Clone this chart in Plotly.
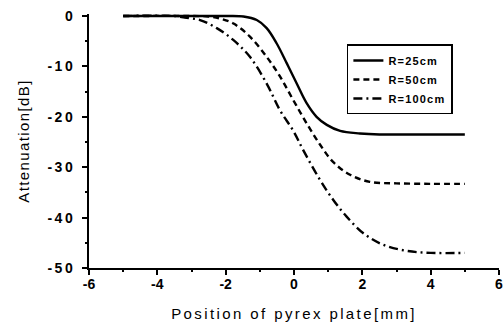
import plotly.graph_objects as go

# ---- data ----
x_r25 = [-5, -3, -2, -1.48, -1.09, -0.8, -0.51, -0.21, 0.08, 0.37, 0.66, 0.96, 1.35, 1.93, 2.5, 3.5, 5]
y_r25 = [0, 0, 0, -0.1, -0.8, -2.4, -5.4, -9.4, -13.4, -17.3, -20.0, -21.6, -22.8, -23.3, -23.5, -23.5, -23.5]

x_r50 = [-5, -3, -2.5, -2.16, -1.77, -1.29, -0.8, -0.41, -0.02, 0.37, 0.76, 1.15, 1.64, 2.22, 3.0, 4, 5]
y_r50 = [0, 0, -0.1, -0.5, -1.5, -4.1, -8.1, -12.0, -16.7, -21.3, -25.5, -29.0, -31.5, -32.9, -33.2, -33.3, -33.3]

x_r100 = [-5, -3.5, -3.2, -2.75, -2.26, -1.77, -1.29, -0.8, -0.41, -0.02, 0.27, 0.76, 1.15, 1.54, 2.03, 2.61, 3.3, 4, 5]
y_r100 = [0, 0, -0.3, -0.8, -2.4, -4.8, -8.1, -13.4, -18.7, -22.8, -26.6, -32.5, -36.5, -39.8, -43.1, -45.4, -46.6, -47.0, -47.0]

series_names = ["R=25cm", "R=50cm", "R=100cm"]
x_ticks = [-6, -4, -2, 0, 2, 4, 6]
y_ticks = [0, -10, -20, -30, -40, -50]
x_title = "Position of pyrex plate[mm]"
y_title = "Attenuation[dB]"

FONT = "Arial, Liberation Sans, sans-serif"


def spaced(t, px):
    return '<span style="letter-spacing:%spx">%s</span>' % (px, t)


fig = go.Figure()
styles = [
    dict(color="black", width=2.4, dash="solid"),
    dict(color="black", width=2.4, dash="6px,4px"),
    dict(color="black", width=2.4, dash="9px,4px,2px,4px"),
]
for xs, ys, name, st in zip([x_r25, x_r50, x_r100], [y_r25, y_r50, y_r100], series_names, styles):
    fig.add_trace(go.Scatter(x=xs, y=ys, mode="lines", name=spaced(name, 1.2),
                             line=dict(shape="spline", smoothing=1.0, **st)))

axis_common = dict(
    showgrid=False, zeroline=False, showline=True, linecolor="black", linewidth=2,
    ticks="outside", ticklen=5, tickwidth=2, tickcolor="black",
    tickfont=dict(family=FONT, size=14, color="black", weight="bold"),
    mirror=False, automargin=False,
)

fig.update_xaxes(
    range=[-6, 6], tickvals=x_ticks, ticktext=[str(v) for v in x_ticks],
    minor=dict(ticks="outside", ticklen=2, tickwidth=1.5, tickcolor="black", dtick=1, tick0=0),
    ticklabelstandoff=-3,
    title=dict(text=spaced(x_title, 2.4), font=dict(family=FONT, size=15, color="black"), standoff=18),
    **axis_common,
)
fig.update_yaxes(
    range=[-50, 0.4], tickvals=y_ticks, ticktext=[spaced(str(v), 2.5) for v in y_ticks],
    minor=dict(ticks="outside", ticklen=2, tickwidth=1.5, tickcolor="black", dtick=5, tick0=0),
    ticklabelstandoff=4,
    title=dict(text=spaced(y_title, 1.4), font=dict(family=FONT, size=15, color="black"), standoff=14),
    **axis_common,
)

fig.update_layout(
    width=504, height=326,
    margin=dict(l=89, r=5, t=14, b=58, autoexpand=False),
    paper_bgcolor="white", plot_bgcolor="white",
    showlegend=True,
    legend=dict(
        x=0.629, y=0.88, xanchor="left", yanchor="top",
        bordercolor="black", borderwidth=1.5, bgcolor="white",
        font=dict(family=FONT, size=11, color="black", weight="bold"),
        tracegroupgap=0, itemwidth=30,
    ),
)

fig.write_html("out.html", config={"displayModeBar": False},
               post_script="document.body.style.margin='0';")
